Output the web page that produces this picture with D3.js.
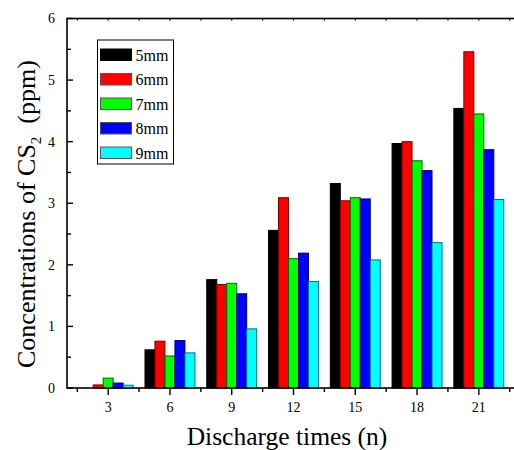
<!DOCTYPE html>
<html>
<head>
<meta charset="utf-8">
<script src="https://cdn.jsdelivr.net/npm/d3@7"></script>
<style>
  body { margin: 0; background: #fff; }
  svg { display: block; font-family: "Liberation Serif", "DejaVu Serif", serif; }
</style>
</head>
<body>
<svg id="chart"></svg>
<script>
const discharges = [3, 6, 9, 12, 15, 18, 21];
const seriesNames = ["5mm", "6mm", "7mm", "8mm", "9mm"];
const v5mm = [0.0, 0.62, 1.76, 2.56, 3.32, 3.97, 4.54];
const v6mm = [0.05, 0.76, 1.68, 3.09, 3.04, 4.0, 5.46];
const v7mm = [0.16, 0.52, 1.7, 2.1, 3.09, 3.69, 4.45];
const v8mm = [0.08, 0.77, 1.53, 2.19, 3.07, 3.53, 3.87];
const v9mm = [0.045, 0.57, 0.96, 1.73, 2.08, 2.36, 3.06];
const fills = ["#000000", "#ff0000", "#00ff00", "#0000ff", "#00ffff"];
const strokes = ["#000000", "#7a0000", "#006a00", "#00007a", "#007070"];
const yTicks = [0, 1, 2, 3, 4, 5, 6];

const seriesValues = [v5mm, v6mm, v7mm, v8mm, v9mm];

const width = 514, height = 450;
const margin = { top: 18.5, right: -6, bottom: 62, left: 67 };

const svg = d3.select("#chart").attr("width", width).attr("height", height);

const x = d3.scaleLinear().domain([1, 23]).range([margin.left, width - margin.right]);
const y = d3.scaleLinear().domain([0, 6]).range([height - margin.bottom, margin.top]);

const barW = 0.485; // in data units
const rows = [];
discharges.forEach((d, i) => {
  seriesValues.forEach((vals, s) => {
    rows.push({ d, s, v: vals[i] });
  });
});

const g = svg.append("g");

g.selectAll(".bar")
  .data(rows.filter(r => r.v > 0))
  .enter()
  .append("rect")
  .attr("class", "bar")
  .attr("x", r => x(r.d + (r.s - 2.5) * barW))
  .attr("y", r => y(r.v))
  .attr("width", r => x(barW) - x(0))
  .attr("height", r => y(0) - y(r.v))
  .attr("fill", r => fills[r.s])
  .attr("stroke", r => strokes[r.s])
  .attr("stroke-width", 1);

// frame
const x0 = x.range()[0], x1 = x.range()[1];
const y0 = y.range()[0], y1 = y.range()[1];
svg.append("rect")
  .attr("x", x0).attr("y", y1)
  .attr("width", x1 - x0).attr("height", y0 - y1)
  .attr("fill", "none").attr("stroke", "#000").attr("stroke-width", 1.6);

// left axis ticks (inward)
const yMinor = d3.range(0.5, 6, 1);
svg.append("g").selectAll("line")
  .data(yTicks.concat(yMinor))
  .enter().append("line")
  .attr("x1", x0).attr("x2", d => x0 + (Number.isInteger(d) ? 6 : 4))
  .attr("y1", d => y(d)).attr("y2", d => y(d))
  .attr("stroke", "#000").attr("stroke-width", 1.4);

svg.append("g").selectAll("text")
  .data(yTicks)
  .enter().append("text")
  .attr("x", x0 - 12)
  .attr("y", d => y(d))
  .attr("dy", "0.35em")
  .attr("text-anchor", "end")
  .style("font-size", "14px")
  .text(d => d);

// bottom axis ticks (outward)
const xMinor = d3.range(1.5, 23, 3);
svg.append("g").selectAll("line")
  .data(discharges.concat(xMinor))
  .enter().append("line")
  .attr("x1", d => x(d)).attr("x2", d => x(d))
  .attr("y1", y0).attr("y2", d => y0 + (discharges.includes(d) ? 7 : 4))
  .attr("stroke", "#000").attr("stroke-width", 1.4);

// top axis minor marks
svg.append("g").selectAll("line")
  .data(discharges.concat(xMinor))
  .enter().append("line")
  .attr("x1", d => x(d)).attr("x2", d => x(d))
  .attr("y1", y1).attr("y2", y1 + 2)
  .attr("stroke", "#000").attr("stroke-width", 1.2);

svg.append("g").selectAll("text")
  .data(discharges)
  .enter().append("text")
  .attr("x", d => x(d))
  .attr("y", y0 + 24)
  .attr("text-anchor", "middle")
  .style("font-size", "14px")
  .text(d => d);

// axis titles
svg.append("text")
  .attr("x", 287)
  .attr("y", 445)
  .attr("text-anchor", "middle")
  .style("font-size", "25.5px")
  .text("Discharge times (n)");

const yt = svg.append("text")
  .attr("transform", "translate(35,368) rotate(-90)")
  .attr("text-anchor", "start")
  .style("font-size", "26px")
  .style("white-space", "pre");
yt.append("tspan").text("Concentrations of CS");
yt.append("tspan").attr("dy", 6).style("font-size", "15px").text("2");
yt.append("tspan").attr("dy", -6).text("  (ppm)");

// legend
const legend = svg.append("g").attr("transform", "translate(97.5,40)");
legend.append("rect")
  .attr("width", 76).attr("height", 124)
  .attr("fill", "#fff").attr("stroke", "#000").attr("stroke-width", 1);
const item = legend.selectAll(".item")
  .data(seriesNames)
  .enter().append("g")
  .attr("class", "item")
  .attr("transform", (d, i) => `translate(3,${9 + i * 24.5})`);
item.append("rect")
  .attr("width", 31).attr("height", 11.5)
  .attr("fill", (d, i) => fills[i])
  .attr("stroke", (d, i) => strokes[i] === "#000000" ? "#000" : "#555")
  .attr("stroke-width", 1);
item.append("text")
  .attr("x", 35).attr("y", 6)
  .attr("dy", "0.35em")
  .style("font-size", "16px")
  .text(d => d);
</script>
</body>
</html>
